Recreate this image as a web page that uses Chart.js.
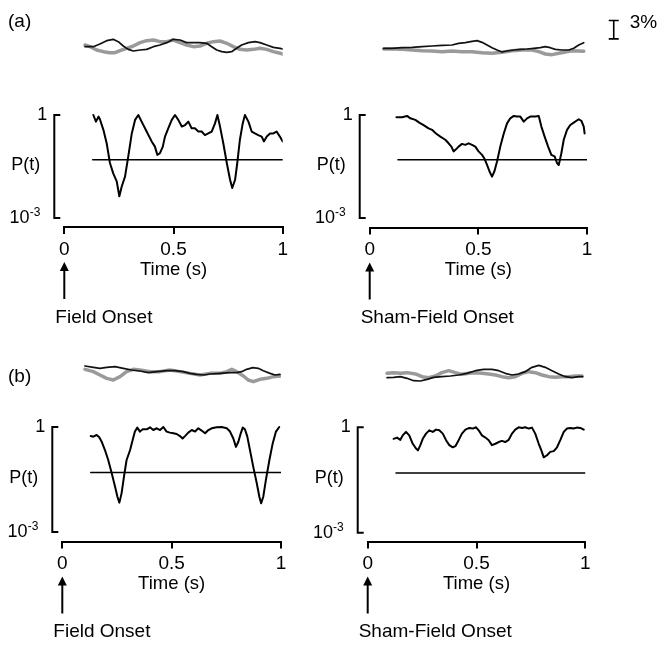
<!DOCTYPE html>
<html>
<head>
<meta charset="utf-8">
<script src="https://cdn.jsdelivr.net/npm/chart.js@4.4.1/dist/chart.umd.min.js"></script>
<style>
  body { margin: 0; background: #fff; }
  #wrap { position: relative; width: 664px; height: 647px; }
  canvas { position: absolute; }
</style>
</head>
<body>
<div id="wrap">
  <canvas id="fieldA" width="332" height="330" style="left:0;top:0"></canvas>
  <canvas id="shamA" width="364" height="330" style="left:300px;top:0"></canvas>
  <canvas id="fieldB" width="332" height="317" style="left:0;top:330px"></canvas>
  <canvas id="shamB" width="364" height="317" style="left:300px;top:330px"></canvas>
</div>
<script>
// --- data ---
const xTicks = [0, 0.5, 1];
const threshold = 0.05;
const thresholdStart = 0.13;
const scaleBarPct = 3;

// (a) Field: P(t)
const fieldA_t = [0.133,0.145,0.157,0.163,0.179,0.194,0.209,0.224,0.240,0.252,0.263,0.278,0.293,0.309,0.324,0.339,0.354,0.377,0.400,0.415,0.426,0.438,0.451,0.461,0.476,0.492,0.507,0.522,0.538,0.553,0.568,0.583,0.598,0.614,0.629,0.644,0.659,0.675,0.690,0.701,0.713,0.728,0.744,0.759,0.769,0.782,0.792,0.804,0.817,0.827,0.843,0.858,0.873,0.888,0.904,0.914,0.927,0.942,0.957,0.972,0.987,1.0];
const fieldA_p = [1.0,0.64,0.9,0.75,0.37,0.15,0.040,0.020,0.0117,0.0043,0.0083,0.016,0.062,0.29,0.72,1.0,0.64,0.33,0.17,0.12,0.069,0.077,0.12,0.235,0.41,0.72,1.0,0.72,0.46,0.51,0.64,0.41,0.41,0.33,0.33,0.26,0.29,0.33,0.57,1.0,0.46,0.15,0.040,0.013,0.0075,0.013,0.040,0.19,0.57,1.0,0.64,0.33,0.29,0.26,0.235,0.17,0.235,0.29,0.29,0.33,0.235,0.17];
// (a) Field: traces (%)
const fieldA_blackT = [0.095,0.133,0.163,0.194,0.224,0.247,0.270,0.293,0.316,0.347,0.377,0.408,0.438,0.469,0.499,0.530,0.560,0.591,0.621,0.652,0.675,0.698,0.721,0.744,0.766,0.789,0.812,0.843,0.873,0.896,0.927,0.957,0.988,1.0];
const fieldA_black = [-0.11,-0.11,0.33,0.87,1.09,0.71,0,-0.55,-0.82,-0.66,-0.55,-0.11,0.16,0.55,1.09,0.98,0.55,0.55,0.55,0.44,-0.11,-0.66,-0.93,-1.04,-0.93,-0.38,0.16,0.55,0.71,0.55,0.16,-0.22,-0.38,-0.5];
const fieldA_grayT = [0.095,0.118,0.148,0.179,0.209,0.232,0.255,0.286,0.316,0.347,0.377,0.408,0.438,0.469,0.499,0.530,0.560,0.591,0.621,0.652,0.683,0.713,0.744,0.774,0.804,0.835,0.866,0.896,0.927,0.957,0.988,1.0];
const fieldA_gray = [0.16,-0.11,-0.66,-0.93,-1.09,-1.09,-0.77,-0.38,0,0.55,0.87,0.98,0.71,0.71,0.98,0.55,0.16,-0.11,0,0.44,0.71,0.82,0.44,-0.11,-0.55,-0.66,-0.55,-0.38,-0.55,-0.93,-1.2,-1.3];

// (a) Sham: P(t)
const shamA_t = [0.123,0.149,0.172,0.187,0.210,0.228,0.248,0.271,0.287,0.305,0.325,0.348,0.363,0.376,0.386,0.397,0.409,0.425,0.440,0.455,0.471,0.486,0.501,0.517,0.529,0.540,0.551,0.563,0.574,0.586,0.601,0.617,0.632,0.647,0.663,0.678,0.693,0.709,0.724,0.739,0.762,0.778,0.790,0.805,0.821,0.836,0.851,0.862,0.870,0.882,0.893,0.908,0.923,0.939,0.962,0.974,0.985,0.989];
const shamA_p = [0.86,0.86,0.94,0.80,0.72,0.60,0.51,0.41,0.37,0.29,0.235,0.19,0.15,0.12,0.087,0.10,0.12,0.144,0.135,0.15,0.135,0.12,0.087,0.069,0.052,0.035,0.023,0.016,0.023,0.044,0.12,0.29,0.57,0.80,0.94,0.90,0.90,0.64,0.80,0.90,0.90,0.94,0.46,0.235,0.12,0.069,0.062,0.040,0.035,0.077,0.19,0.37,0.51,0.60,0.75,0.68,0.46,0.29];
const shamA_blackT = [0.064,0.103,0.149,0.195,0.241,0.287,0.333,0.379,0.409,0.440,0.471,0.494,0.517,0.540,0.563,0.586,0.609,0.632,0.663,0.693,0.724,0.755,0.785,0.808,0.831,0.854,0.885,0.916,0.939,0.962,0.985];
const shamA_black = [-0.05,-0.05,0.05,0.11,0.22,0.33,0.44,0.49,0.77,0.87,1.09,1.20,0.93,0.49,0.05,-0.33,-0.66,-0.49,-0.33,-0.22,-0.16,-0.05,0.05,0.22,0.05,-0.22,-0.33,-0.33,-0.05,0.49,0.87];
const shamA_grayT = [0.064,0.103,0.149,0.195,0.241,0.287,0.333,0.379,0.425,0.471,0.517,0.563,0.609,0.655,0.701,0.747,0.778,0.808,0.839,0.870,0.900,0.931,0.962,0.985];
const shamA_gray = [-0.16,-0.16,-0.22,-0.33,-0.44,-0.49,-0.60,-0.49,-0.60,-0.60,-0.77,-0.87,-0.71,-0.44,-0.33,-0.33,-0.60,-0.98,-1.09,-0.87,-0.66,-0.44,-0.49,-0.55];

// (b) Field: P(t)
const fieldB_t = [0.130,0.142,0.157,0.169,0.180,0.195,0.210,0.226,0.241,0.252,0.261,0.271,0.282,0.294,0.310,0.322,0.332,0.343,0.355,0.368,0.386,0.401,0.416,0.432,0.447,0.462,0.477,0.492,0.508,0.523,0.538,0.550,0.561,0.576,0.592,0.607,0.622,0.637,0.653,0.668,0.683,0.706,0.729,0.752,0.767,0.782,0.794,0.805,0.816,0.825,0.835,0.846,0.858,0.873,0.889,0.901,0.909,0.919,0.931,0.947,0.962,0.977,0.992];
const fieldB_p = [0.55,0.53,0.59,0.51,0.38,0.22,0.114,0.048,0.020,0.0102,0.0069,0.0127,0.038,0.114,0.22,0.43,0.74,0.96,0.74,0.86,0.86,0.98,0.82,0.92,0.82,1.0,0.74,0.69,0.66,0.63,0.55,0.47,0.55,0.69,0.82,0.74,0.92,0.79,0.66,0.82,0.92,0.98,1.0,0.92,0.74,0.47,0.27,0.38,0.66,0.96,0.86,0.53,0.22,0.074,0.025,0.0102,0.0066,0.0102,0.031,0.114,0.34,0.74,1.0];
const fieldB_blackT = [0.104,0.142,0.172,0.203,0.241,0.279,0.317,0.355,0.393,0.432,0.477,0.515,0.553,0.584,0.614,0.645,0.675,0.721,0.767,0.797,0.820,0.843,0.871,0.896,0.919,0.950,0.973,0.995];
const fieldB_black = [0.66,0.44,0.27,0.44,0.55,0.27,0,-0.16,-0.44,-0.27,-0.11,-0.11,-0.27,-0.55,-0.71,-0.82,-0.66,-0.55,-0.44,-0.44,-0.27,0.11,0.38,0.27,-0.11,-0.55,-0.82,-0.71];
const fieldB_grayT = [0.104,0.142,0.172,0.203,0.233,0.264,0.294,0.325,0.355,0.401,0.447,0.492,0.538,0.584,0.630,0.675,0.721,0.752,0.775,0.797,0.828,0.850,0.873,0.904,0.935,0.965,0.995];
const fieldB_gray = [0.11,-0.27,-0.82,-1.37,-1.64,-1.09,-0.27,0.11,0,-0.27,-0.27,0,-0.27,-0.55,-0.82,-0.55,-0.55,-0.27,0.11,-0.27,-0.98,-1.64,-1.91,-1.53,-1.37,-1.09,-0.98];

// (b) Sham: P(t)
const shamB_t = [0.119,0.135,0.150,0.161,0.176,0.191,0.207,0.222,0.231,0.242,0.253,0.268,0.283,0.299,0.314,0.329,0.345,0.360,0.375,0.391,0.403,0.418,0.433,0.449,0.467,0.483,0.498,0.510,0.525,0.541,0.556,0.571,0.587,0.602,0.617,0.632,0.648,0.663,0.678,0.694,0.709,0.724,0.740,0.755,0.770,0.786,0.798,0.809,0.824,0.839,0.855,0.870,0.885,0.901,0.916,0.931,0.946,0.961,0.977,0.993];
const shamB_p = [0.47,0.51,0.44,0.59,0.74,0.59,0.34,0.25,0.22,0.31,0.47,0.66,0.82,0.74,0.86,0.82,0.66,0.43,0.31,0.27,0.29,0.43,0.66,0.86,0.96,0.92,1.0,0.82,0.59,0.51,0.43,0.31,0.34,0.38,0.41,0.38,0.44,0.66,0.86,1.0,0.96,1.0,0.92,0.98,0.66,0.34,0.22,0.14,0.16,0.20,0.21,0.27,0.43,0.74,0.92,0.96,0.92,0.98,0.96,0.86];
const shamB_blackT = [0.089,0.119,0.150,0.181,0.211,0.242,0.273,0.303,0.341,0.380,0.418,0.456,0.495,0.533,0.571,0.602,0.632,0.663,0.694,0.724,0.755,0.786,0.816,0.847,0.878,0.908,0.939,0.970,0.988];
const shamB_black = [-0.27,-0.22,-0.11,-0.38,-0.77,-0.82,-0.55,-0.22,-0.11,0,0.16,0.44,0.87,1.09,1.09,0.87,0.44,0.16,0.33,0.71,1.42,1.75,1.42,0.87,0.33,-0.11,-0.27,-0.11,-0.11];
const shamB_grayT = [0.089,0.119,0.150,0.181,0.219,0.250,0.280,0.311,0.341,0.372,0.403,0.433,0.464,0.495,0.525,0.556,0.587,0.617,0.648,0.678,0.709,0.740,0.770,0.801,0.832,0.862,0.893,0.923,0.954,0.985];
const shamB_gray = [0.44,0.55,0.44,0.55,0.33,-0.11,-0.27,0,0.55,0.87,0.55,0.27,0.44,0.55,0.44,0.33,0.16,-0.11,-0.27,-0.11,0.44,0.71,0.55,0.16,-0.11,-0.22,-0.11,-0.11,0,0];

// --- layout (canvas pixels) ---
const FONT = '"Liberation Sans", Arial, Helvetica, sans-serif';
const CHART_TOP = 8;        // top of plot area
const XAXIS_H = 54;         // x axis box height (ticks + labels + title)
const PX_PER_PCT = 6.1;     // trace scale

Chart.defaults.font.family = FONT;
Chart.defaults.color = '#000';

const panels = [
  { id: 'fieldA', tag: '(a)', tagY: 22, onset: 'Field Onset',
    t: fieldA_t, p: fieldA_p, bt: fieldA_blackT, bv: fieldA_black, gt: fieldA_grayT, gv: fieldA_gray,
    x0: 64.3, x1: 282.7, y1: 115, y3: 218, axisY: 227, base: 46 },
  { id: 'shamA', onset: 'Sham-Field Onset', bar: true,
    t: shamA_t, p: shamA_p, bt: shamA_blackT, bv: shamA_black, gt: shamA_grayT, gv: shamA_gray,
    x0: 69.7, x1: 287, y1: 115, y3: 218, axisY: 227.5, base: 48 },
  { id: 'fieldB', tag: '(b)', tagY: 46.5, onset: 'Field Onset',
    t: fieldB_t, p: fieldB_p, bt: fieldB_blackT, bv: fieldB_black, gt: fieldB_grayT, gv: fieldB_gray,
    x0: 62.3, x1: 281, y1: 97, y3: 202, axisY: 211.5, base: 40 },
  { id: 'shamB', onset: 'Sham-Field Onset',
    t: shamB_t, p: shamB_p, bt: shamB_blackT, bv: shamB_black, gt: shamB_grayT, gv: shamB_gray,
    x0: 67.7, x1: 285.3, y1: 97.3, y3: 202.7, axisY: 211.5, base: 46 }
];

const pts = (t, v) => t.slice(0, v.length).map((x, i) => ({ x, y: v[i] }));

// axis bracket, labels, arrow, panel tags, scale bar
const decor = {
  id: 'decor',
  afterDraw(chart, args, opts) {
    const { ctx } = chart;
    const x = chart.scales.x, y = chart.scales.p, tr = chart.scales.tr;
    const x0 = x.getPixelForValue(0);
    const bx = x0 - 10;
    const yTop = y.getPixelForValue(1), yBot = y.getPixelForValue(1e-3);
    ctx.save();
    ctx.strokeStyle = '#000';
    ctx.fillStyle = '#000';
    ctx.lineWidth = 2;
    ctx.beginPath();
    ctx.moveTo(bx + 6, yTop); ctx.lineTo(bx, yTop); ctx.lineTo(bx, yBot); ctx.lineTo(bx + 6, yBot);
    ctx.stroke();

    ctx.textBaseline = 'middle';
    ctx.textAlign = 'right';
    ctx.font = '18px ' + FONT;
    ctx.fillText('1', bx - 7, yTop);
    ctx.font = '12px ' + FONT;
    const supW = ctx.measureText('-3').width;
    ctx.fillText('-3', bx - 14, yBot - 5);
    ctx.font = '18px ' + FONT;
    ctx.fillText('10', bx - 14 - supW, yBot);
    ctx.fillText('P(t)', bx - 14, y.getPixelForValue(Math.pow(10, -1.45)));

    // onset arrow
    const ay = x.top;
    ctx.beginPath();
    ctx.moveTo(x0, ay + 42); ctx.lineTo(x0, ay + 72);
    ctx.stroke();
    ctx.beginPath();
    ctx.moveTo(x0, ay + 35); ctx.lineTo(x0 - 4.5, ay + 44); ctx.lineTo(x0 + 4.5, ay + 44);
    ctx.closePath(); ctx.fill();
    ctx.textAlign = 'left';
    ctx.font = '19px ' + FONT;
    ctx.fillText(opts.onset, x0 - 9, ay + 90.5);

    if (opts.tag) {
      ctx.font = '19px ' + FONT;
      ctx.fillText(opts.tag, 8, opts.tagY);
    }
    if (opts.bar) {
      const sx = x.getPixelForValue(1.123);
      const b0 = tr.getPixelForValue(1.5), b1 = tr.getPixelForValue(1.5 + scaleBarPct);
      ctx.lineWidth = 1.6;
      ctx.beginPath();
      ctx.moveTo(sx, b0); ctx.lineTo(sx, b1);
      ctx.moveTo(sx - 5, b0); ctx.lineTo(sx + 5, b0);
      ctx.moveTo(sx - 5, b1); ctx.lineTo(sx + 5, b1);
      ctx.stroke();
      ctx.font = '19px ' + FONT;
      ctx.fillText(scaleBarPct + '%', sx + 16, b1 + 2);
    }
    ctx.restore();
  }
};

panels.forEach(pn => {
  const canvas = document.getElementById(pn.id);
  const W = canvas.width, H = canvas.height;
  const decade = (pn.y3 - pn.y1) / 3;
  const pMax = Math.pow(10, (pn.y1 - CHART_TOP) / decade);
  const pMin = Math.pow(10, -3 - (pn.axisY - pn.y3) / decade);
  const trMax = (pn.base - CHART_TOP) / PX_PER_PCT;
  const trMin = -(pn.axisY - pn.base) / PX_PER_PCT;

  new Chart(canvas, {
    type: 'line',
    data: {
      datasets: [
        { data: pts(pn.t, pn.p), yAxisID: 'p', borderColor: '#000', borderWidth: 2 },
        { data: [{ x: thresholdStart, y: threshold }, { x: 1, y: threshold }], yAxisID: 'p', borderColor: '#000', borderWidth: 1.5 },
        { data: pts(pn.bt, pn.bv), yAxisID: 'tr', borderColor: '#111', borderWidth: 1.7 },
        { data: pts(pn.gt, pn.gv), yAxisID: 'tr', borderColor: '#9a9a9a', borderWidth: 3.5 }
      ]
    },
    options: {
      responsive: false,
      animation: false,
      devicePixelRatio: 1,
      elements: {
        point: { radius: 0 },
        line: { tension: 0, borderJoinStyle: 'round', borderCapStyle: 'round' }
      },
      layout: { padding: { left: pn.x0, right: W - pn.x1, top: CHART_TOP, bottom: H - pn.axisY - XAXIS_H } },
      plugins: {
        legend: { display: false },
        tooltip: { enabled: false },
        decor: { onset: pn.onset, tag: pn.tag, tagY: pn.tagY, bar: pn.bar }
      },
      scales: {
        x: {
          type: 'linear', min: 0, max: 1, bounds: 'data',
          afterBuildTicks: s => { s.ticks = xTicks.map(v => ({ value: v })); },
          afterFit: s => { s.height = XAXIS_H; },
          ticks: { font: { size: 19 }, color: '#000', padding: 4, maxRotation: 0, autoSkip: false,
                   callback: v => String(v) },
          grid: { drawOnChartArea: false, color: '#000', lineWidth: 2, tickLength: 7 },
          border: { color: '#000', width: 2 },
          title: { display: true, text: 'Time (s)', font: { size: 18.5 }, color: '#000', padding: { top: 0, bottom: 0 } }
        },
        p: { type: 'logarithmic', display: false, position: 'left', bounds: 'data', min: pMin, max: pMax },
        tr: { type: 'linear', display: false, position: 'right', bounds: 'data', min: trMin, max: trMax }
      }
    },
    plugins: [decor]
  });
});
</script>
</body>
</html>
